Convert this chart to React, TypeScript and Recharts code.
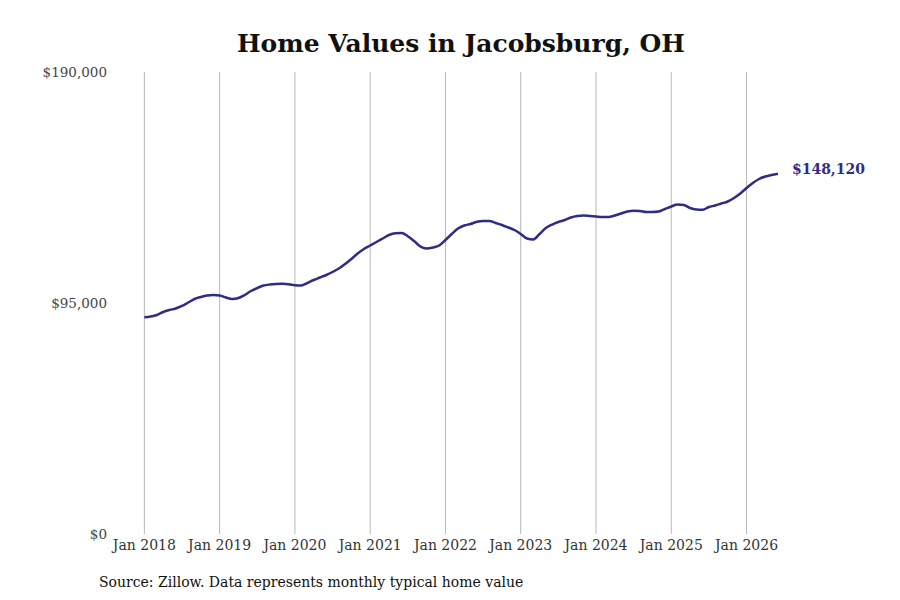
import { Line, LineChart, ReferenceLine, XAxis, YAxis, LabelList } from "recharts";

// Monthly typical home value, Jan 2018 .. Jun 2026
const VALUES_2018 = [89120, 89450, 90070, 91300, 92120, 92740, 93770, 95200, 96650, 97470, 98090, 98300];
const VALUES_2019 = [98090, 97260, 96650, 97060, 98300, 99940, 101170, 102200, 102610, 102820, 102900, 102740];
const VALUES_2020 = [102320, 102200, 103230, 104460, 105490, 106520, 107750, 109190, 111040, 113100, 115360, 117210];
const VALUES_2021 = [118650, 120090, 121530, 122970, 123710, 123790, 122470, 120500, 118240, 117420, 117830, 118650];
const VALUES_2022 = [120910, 123380, 125640, 126870, 127490, 128390, 128720, 128720, 127900, 127080, 126050, 125020];
const VALUES_2023 = [123380, 121530, 121120, 123380, 125850, 127280, 128310, 129130, 130160, 130780, 130980, 130780];
const VALUES_2024 = [130570, 130370, 130370, 130980, 131810, 132630, 132920, 132840, 132430, 132430, 132630, 133660];
const VALUES_2025 = [134690, 135510, 135310, 134070, 133460, 133330, 134480, 135100, 135920, 136750, 138180, 140040];
const VALUES_2026 = [142300, 144350, 146000, 147030, 147640, 148120];

const YEAR_LABELS = ["Jan 2018", "Jan 2019", "Jan 2020", "Jan 2021", "Jan 2022", "Jan 2023", "Jan 2024", "Jan 2025", "Jan 2026"];
const Y_TICKS = [0, 95000, 190000];

const VALUES = [
  ...VALUES_2018,
  ...VALUES_2019,
  ...VALUES_2020,
  ...VALUES_2021,
  ...VALUES_2022,
  ...VALUES_2023,
  ...VALUES_2024,
  ...VALUES_2025,
  ...VALUES_2026,
];

const data = VALUES.map((value, month) => ({ month, value }));
const X_TICKS = YEAR_LABELS.map((_, i) => i * 12);

const LINE_COLOR = "#2f2c86";
const FONT = "'DejaVu Serif', serif";

function money(n: number): string {
  return `$${n.toLocaleString("en-US")}`;
}

export default function App() {
  const last = VALUES.length - 1;
  return (
    <div
      style={{
        position: "fixed",
        left: 0,
        top: 0,
        width: 900,
        height: 600,
        background: "#fff",
        fontFamily: FONT,
      }}
    >
      <div
        style={{
          position: "absolute",
          top: 29,
          left: 11,
          width: 900,
          textAlign: "center",
          fontWeight: 700,
          fontSize: 25,
          color: "#111",
        }}
      >
        Home Values in Jacobsburg, OH
      </div>
      <LineChart
        width={900}
        height={600}
        data={data}
        margin={{ top: 72, right: 97, bottom: 36, left: 0 }}
        style={{ position: "absolute", left: 0, top: 0 }}
      >
        <XAxis
          dataKey="month"
          type="number"
          domain={[-5, 105]}
          ticks={X_TICKS}
          tickFormatter={(m: number) => YEAR_LABELS[m / 12] ?? ""}
          axisLine={false}
          tickLine={false}
          tickSize={0}
          tickMargin={6}
          height={30}
          tick={{ fill: "#333", fontSize: 14, fontFamily: FONT }}
          interval={0}
        />
        <YAxis
          width={113}
          domain={[0, 190000]}
          ticks={Y_TICKS}
          tickFormatter={money}
          axisLine={false}
          tickLine={false}
          tickSize={0}
          tickMargin={6}
          tick={{ fill: "#444", fontSize: 13.5, fontFamily: FONT }}
        />
        {X_TICKS.map((t) => (
          <ReferenceLine key={t} x={t} stroke="#b8b8b8" strokeWidth={1} />
        ))}
        <Line
          dataKey="value"
          type="monotone"
          stroke={LINE_COLOR}
          strokeWidth={2.5}
          dot={false}
          isAnimationActive={false}
        >
          <LabelList
            dataKey="value"
            content={(props: any) => {
              if (props.index !== last) return null;
              return (
                <text
                  x={props.x + 14}
                  y={props.y - 5}
                  fill={LINE_COLOR}
                  fontSize={14}
                  fontWeight={700}
                  fontFamily={FONT}
                  dominantBaseline="central"
                >
                  {money(props.value)}
                </text>
              );
            }}
          />
        </Line>
      </LineChart>
      <div
        style={{
          position: "absolute",
          left: 99,
          top: 574,
          fontSize: 14,
          color: "#111",
        }}
      >
        Source: Zillow. Data represents monthly typical home value
      </div>
    </div>
  );
}
